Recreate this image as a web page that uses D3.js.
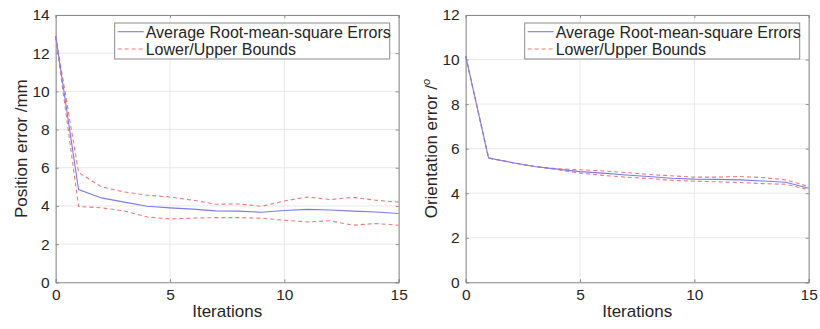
<!DOCTYPE html>
<html>
<head>
<meta charset="utf-8">
<script src="https://cdn.jsdelivr.net/npm/d3@7"></script>
<style>
  body { margin: 0; background: #fff; }
  text { font-family: "Liberation Sans", Arial, sans-serif; fill: #262626; }
</style>
</head>
<body>
<div id="chart"></div>
<script>
// iterations 0..15
var iterations = [0, 1, 2, 3, 4, 5, 6, 7, 8, 9, 10, 11, 12, 13, 14, 15];

// position error (mm)
var posMean  = [12.9, 4.86, 4.42, 4.2, 3.98, 3.9, 3.83, 3.74, 3.73, 3.67, 3.76, 3.82, 3.79, 3.73, 3.68, 3.6];
var posUpper = [12.9, 5.75, 5.0, 4.73, 4.56, 4.47, 4.3, 4.09, 4.1, 3.98, 4.26, 4.47, 4.33, 4.45, 4.3, 4.2];
var posLower = [12.85, 3.97, 3.9, 3.74, 3.42, 3.32, 3.36, 3.39, 3.39, 3.36, 3.25, 3.16, 3.22, 2.99, 3.08, 2.99];

// orientation error (deg)
var oriMean  = [10.15, 5.58, 5.38, 5.2, 5.08, 4.97, 4.9, 4.82, 4.75, 4.67, 4.63, 4.62, 4.6, 4.55, 4.49, 4.22];
var oriUpper = [10.15, 5.58, 5.38, 5.2, 5.1, 5.05, 5.0, 4.93, 4.84, 4.78, 4.72, 4.72, 4.75, 4.7, 4.6, 4.3];
var oriLower = [10.15, 5.58, 5.38, 5.2, 5.06, 4.9, 4.8, 4.72, 4.66, 4.58, 4.54, 4.51, 4.48, 4.43, 4.4, 4.16];

var xTicks = [0, 5, 10, 15];
var posTicks = [0, 2, 4, 6, 8, 10, 12, 14];
var oriTicks = [0, 2, 4, 6, 8, 10, 12];
var legendLabels = ["Average Root-mean-square Errors", "Lower/Upper Bounds"];

var W = 820, H = 329;
var svg = d3.select("#chart").append("svg")
    .attr("width", W).attr("height", H);

function drawPanel(left, yMax, yTicks, mean, upper, lower, yLabel, sup) {
    var x = d3.scaleLinear().domain([0, 15]).range([left, left + 343]);
    var y = d3.scaleLinear().domain([0, yMax]).range([282.3, 15]);
    var g = svg.append("g");

    // grid
    g.selectAll(".gx").data(xTicks).enter().append("line")
        .attr("x1", d => x(d)).attr("x2", d => x(d))
        .attr("y1", y(0)).attr("y2", y(yMax))
        .attr("stroke", "#e8e8e8").attr("stroke-width", 1);
    g.selectAll(".gy").data(yTicks).enter().append("line")
        .attr("x1", x(0)).attr("x2", x(15))
        .attr("y1", d => y(d)).attr("y2", d => y(d))
        .attr("stroke", "#e8e8e8").attr("stroke-width", 1);

    // axes via d3
    var xAxis = d3.axisBottom(x).tickValues(xTicks).tickSize(-3).tickPadding(7);
    var yAxis = d3.axisLeft(y).tickValues(yTicks).tickSize(-3).tickPadding(6);
    var xa = g.append("g").attr("transform", "translate(0," + y(0) + ")").call(xAxis);
    var ya = g.append("g").attr("transform", "translate(" + x(0) + ",0)").call(yAxis);
    [xa, ya].forEach(function(a) {
        a.select(".domain").attr("stroke", "#8c8c8c");
        a.selectAll(".tick line").attr("stroke", "#8c8c8c");
        a.selectAll(".tick text").style("font-size", "15.5px").attr("fill", "#262626");
    });
    // right ticks and top edge
    g.append("g").attr("transform", "translate(" + x(15) + ",0)")
        .call(d3.axisRight(y).tickValues(yTicks).tickSize(-3).tickFormat(""))
        .call(a => a.select(".domain").attr("stroke", "#8c8c8c"))
        .call(a => a.selectAll(".tick line").attr("stroke", "#8c8c8c"));
    g.append("g").attr("transform", "translate(0," + y(yMax) + ")")
        .call(d3.axisTop(x).tickValues(xTicks).tickSize(-3).tickFormat(""))
        .call(a => a.select(".domain").attr("stroke", "#8c8c8c"))
        .call(a => a.selectAll(".tick line").attr("stroke", "#8c8c8c"));

    var line = d3.line().x((d, i) => x(iterations[i])).y(d => y(d));
    [upper, lower].forEach(function(s) {
        g.append("path").datum(s).attr("d", line)
            .attr("fill", "none").attr("stroke", "#f07a7a")
            .attr("stroke-width", 1.1).attr("stroke-dasharray", "4,3");
    });
    g.append("path").datum(mean).attr("d", line)
        .attr("fill", "none").attr("stroke", "#7b7bee").attr("stroke-width", 1.1);

    // axis labels
    g.append("text")
        .attr("x", x(7.5)).attr("y", 317)
        .attr("text-anchor", "middle").style("font-size", "17px")
        .text("Iterations");
    var yl = g.append("text")
        .attr("transform", "translate(" + (left - 29) + "," + y(yMax / 2) + ") rotate(-90)")
        .attr("text-anchor", "middle").style("font-size", "17px")
        .text(yLabel);
    if (sup) {
        yl.append("tspan").attr("dy", -7).style("font-size", "11px").style("font-style", "italic").text(sup);
    }

    // legend
    var lx = x(0) + 59, ly = 23;
    g.append("rect").attr("x", lx).attr("y", ly).attr("width", 275).attr("height", 36)
        .attr("fill", "#fff").attr("stroke", "#8c8c8c").attr("stroke-width", 1);
    var items = g.selectAll(".leg").data(legendLabels).enter().append("g")
        .attr("transform", (d, i) => "translate(" + lx + "," + (ly + 8.7 + i * 17.3) + ")");
    items.append("line").attr("x1", 3).attr("x2", 29).attr("y1", 0).attr("y2", 0)
        .attr("stroke", (d, i) => i ? "#f07a7a" : "#7b7bee")
        .attr("stroke-width", 1.1)
        .attr("stroke-dasharray", (d, i) => i ? "4,3" : null);
    items.append("text").attr("x", 31).attr("y", 5.8)
        .style("font-size", "16px").text(d => d);
}

drawPanel(55.7, 14, posTicks, posMean, posUpper, posLower, "Position error /mm", null);
drawPanel(465.7, 12, oriTicks, oriMean, oriUpper, oriLower, "Orientation error /", "o");
</script>
</body>
</html>
